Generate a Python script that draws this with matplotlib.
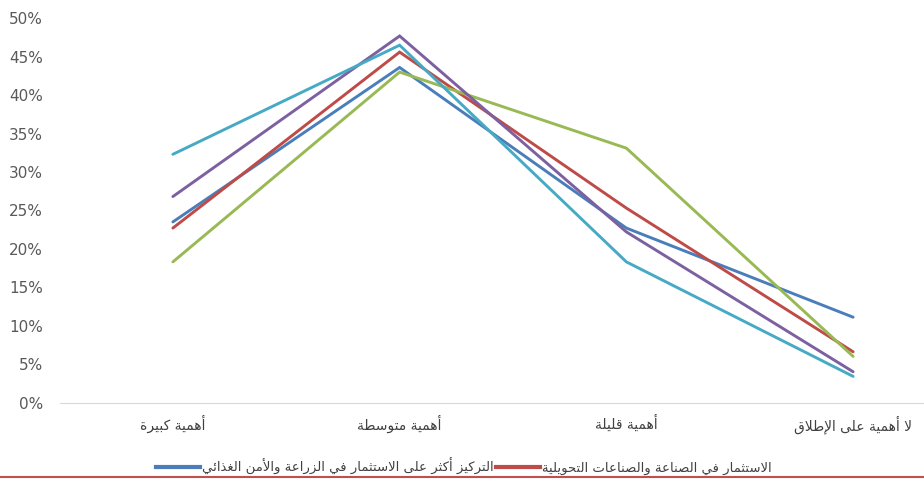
import matplotlib
matplotlib.use("Agg")
import matplotlib.pyplot as plt
from matplotlib.lines import Line2D
from matplotlib.ticker import FuncFormatter

# categories, left to right
categories = ["أهمية كبيرة", "أهمية متوسطة", "أهمية قليلة", "لا أهمية على الإطلاق"]

# share of answers per series (fractions)
agri_food = [0.235, 0.436, 0.227, 0.111]      # blue
industry = [0.227, 0.456, 0.253, 0.066]       # red
series_green = [0.183, 0.430, 0.331, 0.060]
series_purple = [0.268, 0.477, 0.222, 0.040]
series_cyan = [0.323, 0.465, 0.183, 0.034]

legend_labels = [
    "التركيز أكثر على الاستثمار في الزراعة والأمن الغذائي",
    "الاستثمار في الصناعة والصناعات التحويلية",
]

y_ticks = [0, 0.05, 0.10, 0.15, 0.20, 0.25, 0.30, 0.35, 0.40, 0.45, 0.50]


# --- minimal Arabic shaping (matplotlib does no shaping / bidi on its own) ---
_letters = "آأؤإئابةتثجحخدذرزسشصضطظعغفقكلمنهوىي"
_nforms = [2, 2, 2, 2, 4, 2, 4, 2, 4, 4, 4, 4, 4, 2, 2, 2, 2, 4, 4, 4, 4, 4,
           4, 4, 4, 4, 4, 4, 4, 4, 4, 4, 2, 2, 4]
_forms = {}
_code = 0xFE81
for ch, n in zip(_letters, _nforms):
    _forms[ch] = [chr(_code + k) for k in range(n)]  # iso, final, init, medial
    _code += n
_lam_alef = {"ا": 0xFEFB, "أ": 0xFEF7, "إ": 0xFEF9, "آ": 0xFEF5}


def shape(text):
    out = []
    i = 0
    while i < len(text):
        ch = text[i]
        prev = text[i - 1] if i > 0 else ""
        prev_joins = prev in _forms and len(_forms[prev]) == 4
        nxt = text[i + 1] if i + 1 < len(text) else ""
        if ch == "ل" and nxt in _lam_alef:
            base = _lam_alef[nxt]
            out.append(chr(base + 1 if prev_joins else base))
            i += 2
            continue
        if ch not in _forms:
            out.append(ch)
            i += 1
            continue
        f = _forms[ch]
        next_joins = len(f) == 4 and nxt in _forms
        if prev_joins and next_joins:
            out.append(f[3])
        elif prev_joins:
            out.append(f[1])
        elif next_joins:
            out.append(f[2])
        else:
            out.append(f[0])
        i += 1
    return "".join(out)[::-1]


plt.rcParams["font.family"] = ["DejaVu Sans"]

fig = plt.figure(figsize=(9.24, 4.79), dpi=100)
ax = fig.add_axes([0.0644, 0.1597, 0.9816, 0.8021])

x = range(len(categories))
colors = ["#4A7EBB", "#BE4B48", "#98B954", "#7D60A0", "#46AAC5"]
all_series = [agri_food, industry, series_green, series_purple, series_cyan]
for vals, c in zip(all_series, colors):
    ax.plot(x, vals, color=c, lw=2.1, solid_capstyle="round", solid_joinstyle="miter")

ax.set_xlim(-0.5, 3.5)
ax.set_ylim(0, 0.5)
ax.set_yticks(y_ticks)
ax.yaxis.set_major_formatter(FuncFormatter(lambda v, _: f"{v * 100:.0f}%"))
ax.set_xticks(list(x))
ax.set_xticklabels([shape(c) for c in categories])

for s in ["top", "right", "left"]:
    ax.spines[s].set_visible(False)
ax.spines["bottom"].set_color("#D9D9D9")
ax.tick_params(axis="both", length=0)
ax.tick_params(axis="y", labelsize=11, labelcolor="#595959", pad=12)
ax.tick_params(axis="x", labelsize=10, labelcolor="#404040", pad=9)

handles = [Line2D([], [], color=colors[0], lw=3), Line2D([], [], color=colors[1], lw=3)]
fig.legend(handles, [shape(t) for t in legend_labels], loc="center",
           bbox_to_anchor=(0.502, 0.027), ncol=2, frameon=False, fontsize=9.5,
           handlelength=3.3, handletextpad=0.15, columnspacing=0.2,
           labelcolor="#404040")

# thin red rule along the bottom edge
fig.add_artist(Line2D([0, 1], [0.004, 0.004], color="#C0504D", lw=1.5,
                      transform=fig.transFigure))

fig.savefig("out.png", dpi=100)
